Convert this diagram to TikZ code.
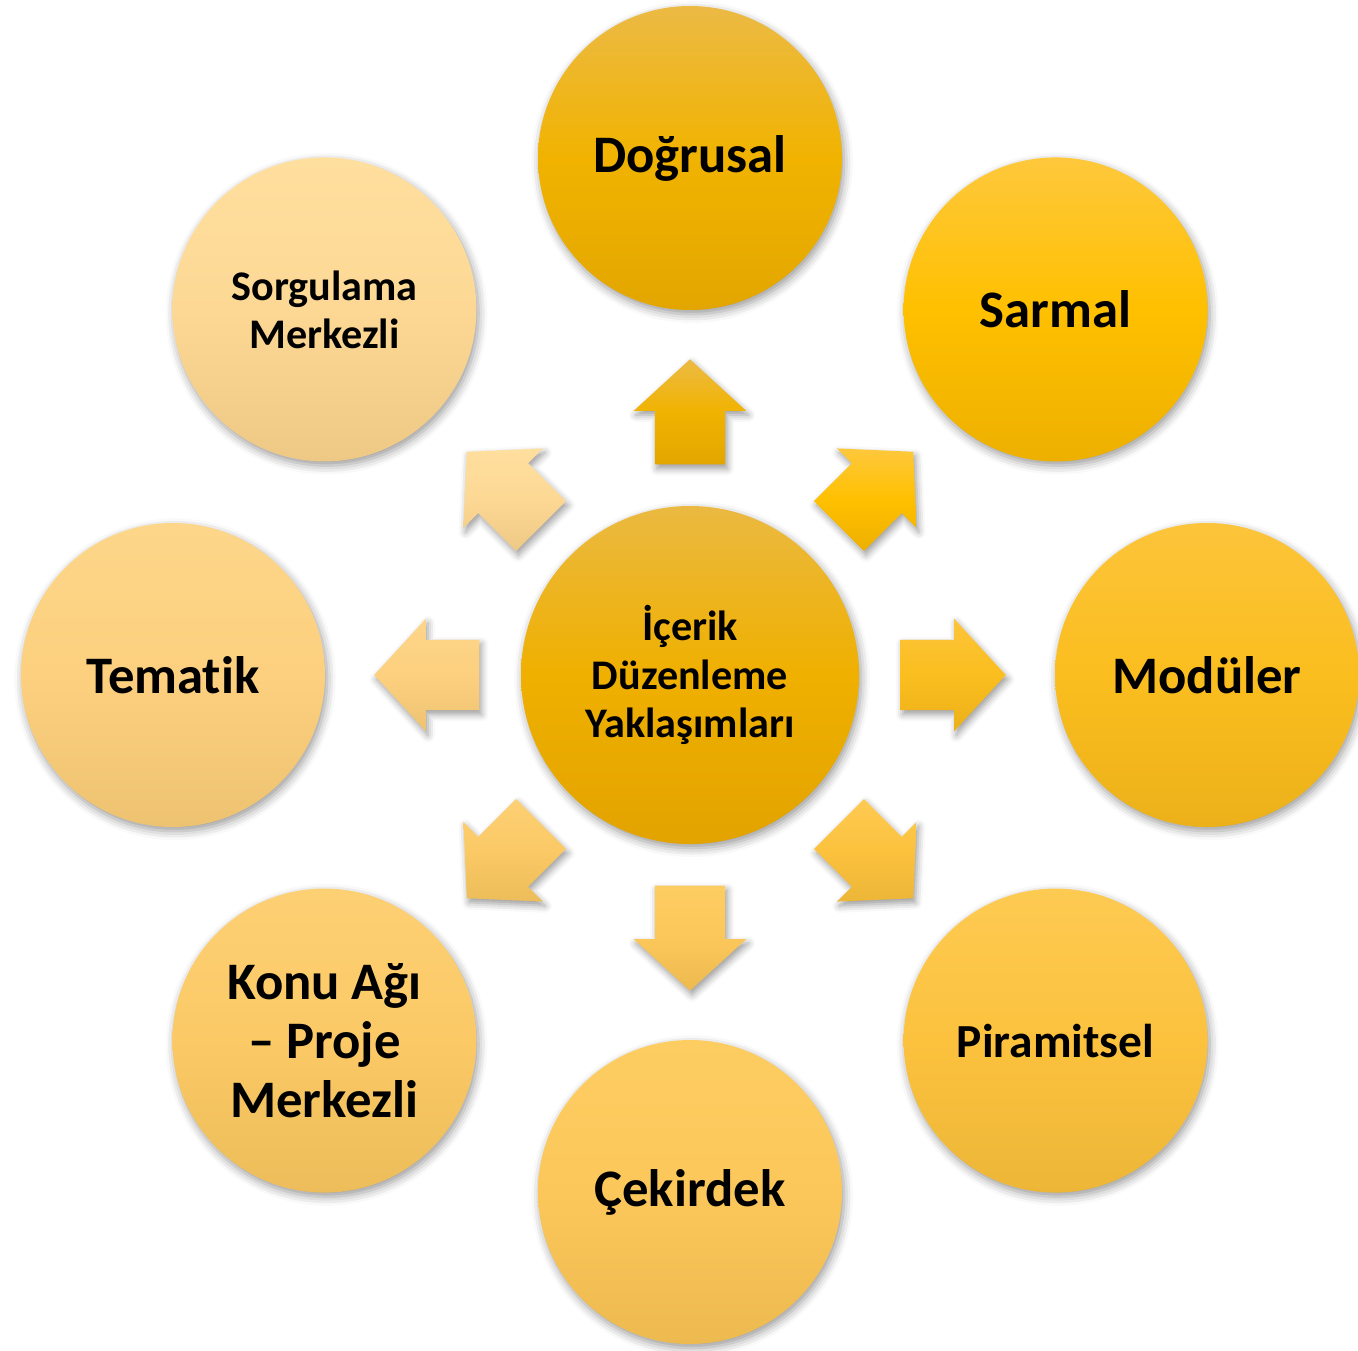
\documentclass[tikz,border=0pt]{standalone}
\usepackage{fontspec}
\setmainfont{Carlito}[Ligatures=NoCommon]
\usepackage{tikz}
\usetikzlibrary{shapes.arrows, shadows.blur}
% top / middle / bottom tones of each approach
\definecolor{cenT}{HTML}{EBB941}
\definecolor{cenM}{HTML}{EFB000}
\definecolor{cenB}{HTML}{E3A300}
\definecolor{dogT}{HTML}{ECBA45}
\definecolor{dogM}{HTML}{F1B300}
\definecolor{dogB}{HTML}{E3A600}
\definecolor{sarT}{HTML}{FEC83C}
\definecolor{sarM}{HTML}{FFC000}
\definecolor{sarB}{HTML}{EDB000}
\definecolor{modT}{HTML}{FCC43A}
\definecolor{modM}{HTML}{FBBE1F}
\definecolor{modB}{HTML}{ECB11A}
\definecolor{pirT}{HTML}{FDCA52}
\definecolor{pirM}{HTML}{FCC23E}
\definecolor{pirB}{HTML}{EDB637}
\definecolor{cekT}{HTML}{FDCD62}
\definecolor{cekM}{HTML}{FCC75A}
\definecolor{cekB}{HTML}{EDBA50}
\definecolor{konT}{HTML}{FDD074}
\definecolor{konM}{HTML}{FBC966}
\definecolor{konB}{HTML}{ECBD5A}
\definecolor{temT}{HTML}{FDD68A}
\definecolor{temM}{HTML}{FCD07E}
\definecolor{temB}{HTML}{EDC271}
\definecolor{sorT}{HTML}{FFDF9E}
\definecolor{sorM}{HTML}{FDD895}
\definecolor{sorB}{HTML}{EEC985}

\begin{document}
\begin{tikzpicture}[
  bubble/.style={
    circle,
    minimum size=3.04cm,
    inner sep=0pt,
    top color=#1T, bottom color=#1B, middle color=#1M,
    blur shadow={shadow xshift=0.6pt, shadow yshift=-1.2pt, shadow blur radius=2.5pt, shadow opacity=40},
    align=center,
    font=\bfseries\fontsize{15}{18}\selectfont
  },
  spoke/.style={
    single arrow,
    anchor=tail,
    minimum height=1.05cm,
    inner xsep=0pt,
    inner ysep=0.345cm,
    single arrow head extend=0.21cm,
    single arrow tip angle=95,
    top color=#1T, bottom color=#1B, middle color=#1M,
    blur shadow={shadow xshift=0.6pt, shadow yshift=-1.2pt, shadow blur radius=2pt, shadow opacity=40}
  }
]
  \useasboundingbox (-6.90,-6.75) rectangle (6.68,6.75);

  \node[bubble=cen, minimum size=3.38cm, font=\bfseries\fontsize{12}{13.7}\selectfont] (cen) at (0,0) {İçerik\\Düzenleme\\Yaklaşımları};

  \node[bubble=dog] (dog) at (90:5.17) {Doğrusal};
  \node[bubble=sar] (sar) at (45:5.17) {Sarmal};
  \node[bubble=mod] (mod) at (0:5.17) {Modüler};
  \node[bubble=pir, font=\bfseries\fontsize{13.5}{16}\selectfont] (pir) at (-45:5.17) {Piramitsel};
  \node[bubble=cek] (cek) at (-90:5.17) {Çekirdek};
  \node[bubble=kon, font=\bfseries\fontsize{15}{16.8}\selectfont] (kon) at (-135:5.17) {Konu Ağı\\– Proje\\Merkezli};
  \node[bubble=tem] (tem) at (180:5.17) {Tematik};
  \node[bubble=sor, font=\bfseries\fontsize{12}{13.7}\selectfont] (sor) at (135:5.17) {Sorgulama\\Merkezli};

  % block arrows from the centre outwards
  \node[spoke=dog, rotate=90] (arDog) at (90:2.10) {};
  \node[spoke=sar, rotate=45] (arSar) at (45:2.10) {};
  \node[spoke=mod, rotate=0] (arMod) at (0:2.10) {};
  \node[spoke=pir, rotate=-45] (arPir) at (-45:2.10) {};
  \node[spoke=cek, rotate=-90] (arCek) at (-90:2.10) {};
  \node[spoke=kon, rotate=-135] (arKon) at (-135:2.10) {};
  \node[spoke=tem, rotate=180] (arTem) at (180:2.10) {};
  \node[spoke=sor, rotate=135] (arSor) at (135:2.10) {};
\end{tikzpicture}
\end{document}
